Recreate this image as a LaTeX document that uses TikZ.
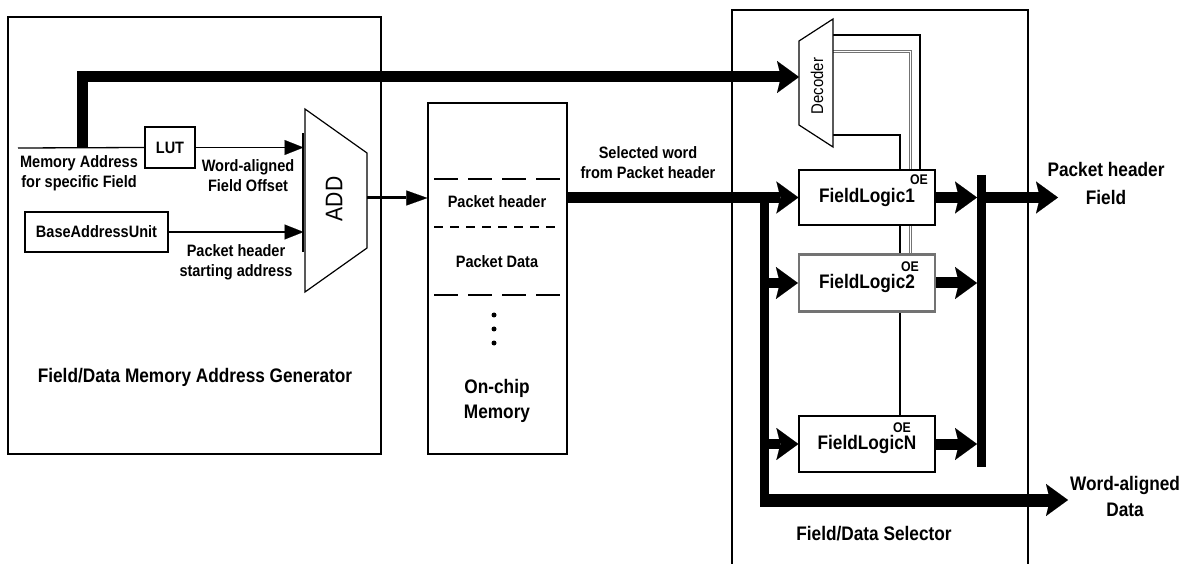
\documentclass[tikz,border=0pt]{standalone}
\usepackage{fontspec}
\setmainfont{Liberation Sans}[FakeStretch=0.88]
\usetikzlibrary{arrows.meta,calc}
\pgfdeclarelayer{bg}
\pgfsetlayers{bg,main}
\begin{document}
\begin{tikzpicture}[x=1pt,y=-1pt,line join=miter,
  box/.style={draw,line width=1.2pt,fill=white,inner sep=0pt},
  lbl/.style={font=\fontsize{16.5}{20}\selectfont\bfseries,align=center,inner sep=0pt},
  big/.style={font=\fontsize{19.6}{25}\selectfont\bfseries,align=center,inner sep=0pt},
  oe/.style={font=\fontsize{14}{16}\selectfont\bfseries,inner sep=0pt},
  thinline/.style={line width=1.3pt},
  thinarrow/.style={line width=1.3pt,-{Triangle[length=19pt,width=15pt,line width=0.1pt]}},
  busarrow/.style={line width=11pt,-{Stealth[length=22pt,width=32pt,inset=4pt,line width=0.1pt]}}]
\useasboundingbox (0,0) rectangle (1187,564);

% frames
\node[box,minimum width=373pt,minimum height=437pt] (gen) at (194.5,235.5) {};
\node[box,minimum width=139pt,minimum height=351pt] (mem) at (497.5,278.5) {};
\node[box,fill=none,minimum width=296pt,minimum height=560pt] (sel) at (880,290) {};

% coordinates
\coordinate (maddr) at (18,148);
\coordinate (busstart) at (82,148);
\coordinate (addTL) at (305,109);
\coordinate (addBL) at (305,292);
\coordinate (addTR) at (367,153);
\coordinate (addBR) at (367,248);
\coordinate (addout) at (367,198);
\coordinate (decTL) at (799,41);
\coordinate (decBL) at (799,125);
\coordinate (decTR) at (833,19);
\coordinate (decBR) at (833,147);
\coordinate (decin) at (799,77);
\coordinate (dec1) at (833,35);
\coordinate (dec2) at (833,52);
\coordinate (dec3) at (833,135);
\coordinate (vtop) at (764,192);
\coordinate (vbot) at (764,500);
\coordinate (hbot) at (760,500);
\coordinate (wadtip) at (1068,500);
\coordinate (obtop) at (981,175);
\coordinate (obbot) at (981,467);
\coordinate (phtip) at (1058,197.5);

% ADD
\draw[line width=1.2pt,fill=white] (addTL) -- (addTR) -- (addBR) -- (addBL) -- cycle;
\draw[line width=2.5pt] (303,133) -- (303,252);
\node[rotate=90,font=\fontsize{24}{26}\selectfont,inner sep=0pt] (addlbl) at (334,199) {ADD};

% Decoder
\draw[line width=1.2pt,fill=white] (decTL) -- (decTR) -- (decBR) -- (decBL) -- cycle;
\node[rotate=90,font=\fontsize{17}{19}\selectfont,inner sep=0pt] (declbl) at (817,86) {Decoder};

% LUT and base address unit
\node[box,lbl,minimum width=50pt,minimum height=41pt] (lut) at (170,147.5) {LUT};
\node[box,lbl,minimum width=143pt,minimum height=40pt] (bau) at (96.5,232) {BaseAddressUnit};

% field logic blocks
\node[box,big,minimum width=136pt,minimum height=55pt] (fl1) at (867,197.5) {FieldLogic1};
\node[box,big,draw=black!55,line width=2.2pt,minimum width=136pt,minimum height=57pt] (fl2) at (867,283) {FieldLogic2};
\node[box,big,minimum width=136pt,minimum height=56pt] (fln) at (867,444) {FieldLogicN};
\node[oe] (oe1) at (919,180) {OE};
\node[oe] (oe2) at (910,267) {OE};
\node[oe] (oe3) at (902,428) {OE};

% decoder outputs (behind blocks)
\begin{pgfonlayer}{bg}
\draw[thinline] (dec1) -| ([xshift=53pt]fl1.north);
\draw[line width=1pt,draw=black!55,double=white,double distance=1pt] (dec2) -| ([xshift=43pt]fl2.north);
\draw[thinline] (dec3) -| ([xshift=33pt]fln.north);
\end{pgfonlayer}

% memory contents
\draw[line width=1.2pt,dash pattern=on 24pt off 10pt] (434,179) -- (561,179);
\draw[line width=1.2pt,dash pattern=on 9pt off 7pt] (434,227) -- (561,227);
\draw[line width=1.2pt,dash pattern=on 24pt off 10pt] (434,295) -- (561,295);
\node[lbl] (mph) at (497,202) {Packet header};
\node[lbl] (mpd) at (497,262) {Packet Data};
\fill (494,315) circle (2.5pt);
\fill (494,329) circle (2.5pt);
\fill (494,343) circle (2.5pt);

% labels
\node[lbl] (malbl) at (79,173) {Memory Address\\for specific Field};
\node[lbl] (wolbl) at (248,176) {Word-aligned\\Field Offset};
\node[lbl] (phlbl) at (236,262) {Packet header\\starting address};
\node[big] (genlbl) at (195,377) {Field/Data Memory Address Generator};
\node[lbl] (swlbl) at (648,163) {Selected word\\from Packet header};
\node[big] (memlbl) at (497,401) {On-chip\\Memory};
\node[big] (sellbl) at (874,534) {Field/Data Selector};
\node[big,font=\fontsize{19.6}{28}\selectfont\bfseries] (phf) at (1106,183) {Packet header\\Field};
\node[big,font=\fontsize{19.6}{26}\selectfont\bfseries] (wad) at (1125,496) {Word-aligned\\Data};

% thin connectors
\draw[thinline] (maddr) -- (lut.west);
\draw[thinarrow,shorten >=1.5pt] (lut.east) -- (lut.east -| addTL);
\draw[thinarrow,shorten >=1.5pt] (bau.east) -- (bau.east -| addTL);
\draw[line width=3pt,-{Triangle[length=21pt,width=15pt,line width=0.1pt]}] (addout) -- (addout -| mem.west);

% buses
\draw[busarrow] (busstart) -- (busstart |- decin) -- (decin);
\draw[busarrow] (mem.east |- fl1.west) -- (fl1.west);
\draw[line width=9pt] (vtop) -- (vbot);
\draw[busarrow,line width=13pt] (hbot) -- (wadtip);
\draw[busarrow,line width=10pt] (vtop |- fl2.west) -- (fl2.west);
\draw[busarrow,line width=10pt] (vtop |- fln.west) -- (fln.west);
\draw[line width=9pt] (obtop) -- (obbot);
\draw[busarrow,shorten >=4pt] (fl1.east) -- (obtop |- fl1.east);
\draw[busarrow,shorten >=4pt] (fl2.east) -- (obtop |- fl2.east);
\draw[busarrow,shorten >=4pt] (fln.east) -- (obtop |- fln.east);
\draw[busarrow] (obtop |- fl1.east) -- (phtip);
\end{tikzpicture}
\end{document}
